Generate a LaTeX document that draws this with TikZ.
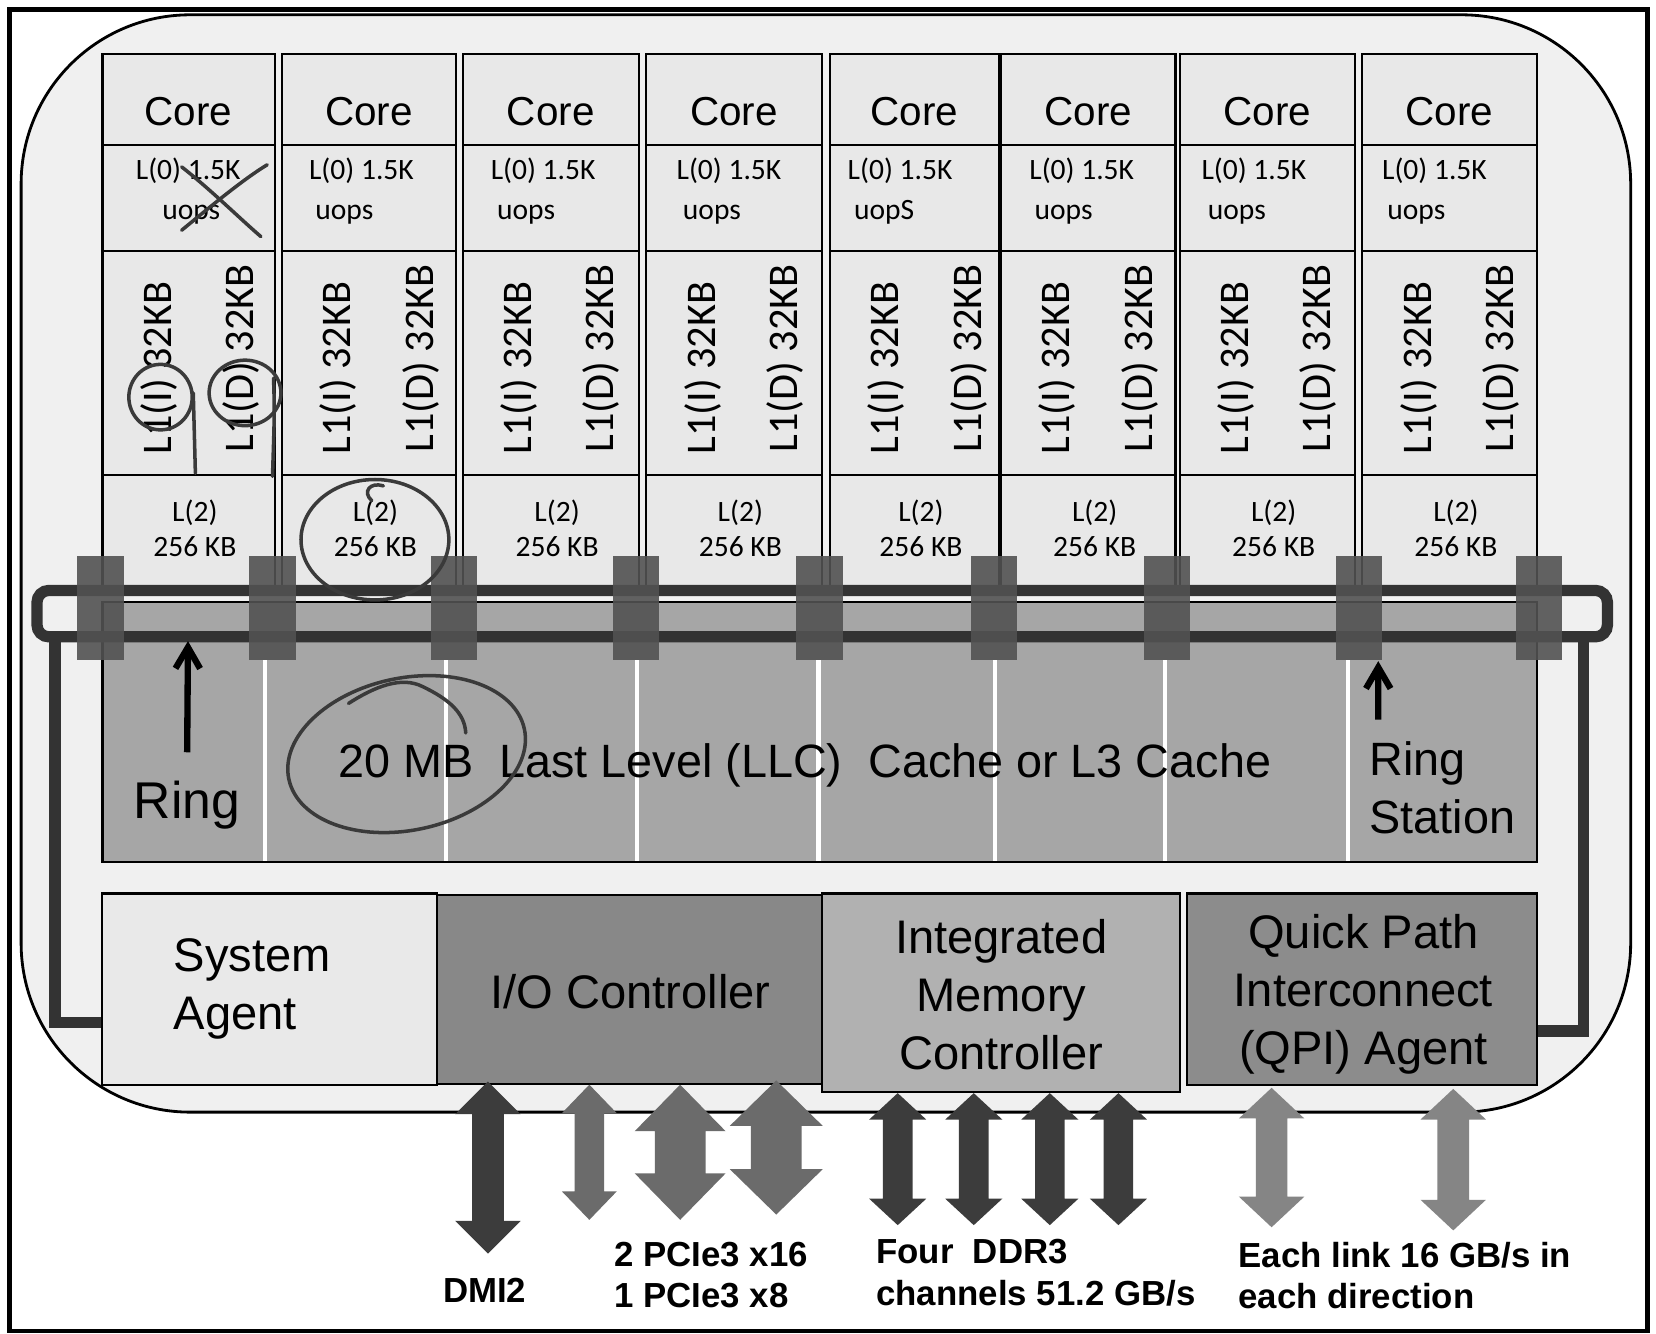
\documentclass[tikz,border=0pt]{standalone}
\usepackage{fontspec}
\setmainfont{Liberation Sans}
\newfontfamily\cachefont{Carlito}
\usetikzlibrary{arrows.meta}

\definecolor{chipbg}{HTML}{F0F0F0}
\definecolor{cellbg}{HTML}{E8E8E8}
\definecolor{ringline}{HTML}{333333}
\definecolor{station}{HTML}{525252}
\definecolor{llcbg}{HTML}{A6A6A6}
\definecolor{sabg}{HTML}{E9E9E9}
\definecolor{iobg}{HTML}{888888}
\definecolor{imcbg}{HTML}{B1B1B1}
\definecolor{qpibg}{HTML}{8C8C8C}
\definecolor{darkarrow}{HTML}{3C3C3C}
\definecolor{midarrow}{HTML}{6B6B6B}
\definecolor{lightarrow}{HTML}{858585}
\definecolor{pen}{HTML}{3A3A3A}

\tikzset{
  cell/.style={draw=black, line width=0.6pt, fill=cellbg},
  coretext/.style={anchor=base, inner sep=0pt, font=\fontsize{11.5}{14}\selectfont},
  smalltext/.style={anchor=base west, inner sep=0pt, font=\cachefont\fontsize{8.4}{10}\selectfont},
  lonetext/.style={anchor=base west, rotate=90, inner sep=0pt, font=\cachefont\fontsize{12}{14}\selectfont},
  bigtext/.style={inner sep=0pt, font=\fontsize{13.4}{16.5}\selectfont},
  unit/.style={draw=black, line width=0.6pt, inner sep=0pt},
  lbl/.style={inner sep=0pt, align=left, font=\bfseries\fontsize{9.9}{11.8}\selectfont},
  ringwire/.style={draw=ringline, line width=3.2pt},
  ringarrow/.style={-{Straight Barb[length=6pt,width=7pt]}, line width=1.8pt},
  scribble/.style={draw=pen, line width=1pt, line cap=round}
}

\begin{document}
\begin{tikzpicture}[x=0.010561cm, y=-0.010561cm]
    \useasboundingbox (0,0) rectangle (1568,1263);
    \fill[white] (0,0) rectangle (1568,1263);
    % frame and chip
    \draw[line width=1.2pt] (9,9) rectangle (1560,1260);
    \draw[fill=chipbg, line width=0.8pt, rounded corners=1.69cm] (20,14) rectangle (1544,1053);

    % the eight cores
    \foreach \i/\l/\r/\o/\u/\w in {1/97/260/31/25/uops, 2/267/432/25/6/uops,
        3/438/605/26/6/uops, 4/612/778/28/6/uops, 5/786/946/16/6/uopS,
        6/948/1113/26/5/uops, 7/1117/1283/20/6/uops, 8/1290/1455/18/5/uops} {
      \draw[cell] (\l,51) rectangle (\r,137);
      \draw[cell] (\l,137) rectangle (\r,238);
      \draw[cell] (\l,238) rectangle (\r,450);
      \draw[cell] (\l,450) rectangle (\r,562);
      \node[coretext] (core\i) at ({(\l+\r)/2},119) {Core};
      \node[smalltext] (lzero\i) at (\l+\o,170) {L(0) 1.5K};
      \node[smalltext] (uops\i) at (\l+\o+\u,208) {\w};
      \node[lonetext] (lonei\i) at (\l+65,431) {L1(I) 32KB};
      \node[lonetext] (loned\i) at (\l+143,429) {L1(D) 32KB};
      \node[smalltext, anchor=base] (ltwo\i) at ({(\l+\r)/2+6},494) {L(2)};
      \node[smalltext, anchor=base] (ltwokb\i) at ({(\l+\r)/2+6},527) {256 KB};
    }

    % last level cache
    \draw[fill=llcbg, line width=0.6pt] (97,570) rectangle (1455,816);
    \foreach \x in {251,422,603,775,942,1103,1276}
      \draw[white, line width=1.2pt] (\x,625) -- (\x,815);

    % ring and ring stations
    \draw[ringwire, rounded corners=0.12cm] (35,559) rectangle (1522,603);
    \foreach \x in {95,258,430,602,776,941,1105,1287,1457}
      \fill[station, fill opacity=0.9] (\x-22,526) rectangle (\x+22,625);

    \node[inner sep=0pt, anchor=base, font=\fontsize{14.7}{17}\selectfont] (ringlbl) at (177,775) {Ring};
    \node[bigtext, anchor=base west, align=left, font=\fontsize{13.3}{16.5}\selectfont] (stationlbl) at (1296,789) {Ring\\Station};
    \node[bigtext, anchor=base, font=\fontsize{13.3}{16}\selectfont] (llc) at (762,736) {20 MB\ \ Last Level (LLC)\ \ Cache or L3 Cache};
    \coordinate (ringtip) at (178,607);
    \coordinate (stationtip) at (1305,626);
    \draw[ringarrow, shorten <=8pt] (ringlbl.north) -- (ringtip);
    \draw[ringarrow, shorten <=6pt] ([xshift=2.7pt]stationlbl.north west) -- (stationtip);

    % uncore units
    \node[unit, fill=sabg, minimum width=3.348cm, minimum height=1.912cm] (sa) at (255.5,936.5) {};
    \node[unit, fill=iobg, minimum width=3.844cm, minimum height=1.890cm] (ioc) at (596,936.5) {};
    \node[unit, fill=imcbg, minimum width=3.580cm, minimum height=1.985cm] (imc) at (947.5,940) {};
    \node[unit, fill=qpibg, minimum width=3.496cm, minimum height=1.912cm] (qpi) at (1289.5,936.5) {};
    \node[bigtext, anchor=base west, align=left] (satext) at (164,975) {System\\Agent};
    \node[bigtext, anchor=base] (ioctext) at (597,955) {I/O Controller};
    \node[bigtext, anchor=base, align=center] (imctext) at (948,1013) {Integrated\\Memory\\Controller};
    \node[bigtext, anchor=base, align=center] (qpitext) at (1291,1008) {Quick Path\\Interconnect\\(QPI) Agent};

    % ring to system agent and QPI agent
    \coordinate (ringsw) at (52,603);
    \coordinate (ringse) at (1499,603);
    \draw[ringwire] (ringsw) |- ([yshift=-9.5pt]sa.west);
    \draw[ringwire] (ringse) |- ([yshift=-11.9pt]qpi.east);

    % off-chip links
    \foreach \x/\t/\b/\s/\h/\a/\c in {462/1024/1187/15/31/31/darkarrow,
        558/1027/1155/14/26/27/midarrow, 644/1027/1155/24/43/44/midarrow,
        735/1023/1150/24/44/43/midarrow, 850/1035/1160/14/27/25/darkarrow,
        922/1035/1160/14/27/25/darkarrow, 994/1035/1160/14/27/25/darkarrow,
        1059/1035/1160/14/27/25/darkarrow, 1204/1030/1162/15/31/29/lightarrow,
        1376/1031/1165/15/31/29/lightarrow}
      \fill[\c] (\x,\t) -- (\x+\h,\t+\a) -- (\x+\s,\t+\a) -- (\x+\s,\b-\a)
        -- (\x+\h,\b-\a) -- (\x,\b) -- (\x-\h,\b-\a) -- (\x-\s,\b-\a)
        -- (\x-\s,\t+\a) -- (\x-\h,\t+\a) -- cycle;

    \node[lbl, anchor=base] (dmi) at (459,1233) {DMI2};
    \node[lbl, anchor=base west] (pcie) at (581,1238) {2 PCIe3 x16\\1 PCIe3 x8};
    \node[lbl, anchor=base west] (ddr) at (829,1236) {Four\ \ DDR3\\channels 51.2 GB/s};
    \node[lbl, anchor=base west] (qpilink) at (1172,1239) {Each link 16 GB/s in\\each direction};

    % hand-drawn marks
    \draw[scribble] (172,158) .. controls (200,180) and (225,205) .. (247,224);
    \draw[scribble] (172,218) .. controls (200,195) and (230,170) .. (253,156);
    \draw[scribble] (152,376) ellipse [x radius=30, y radius=31];
    \draw[scribble] (183,372) -- (185,448);
    \draw[scribble] (232,372) ellipse [x radius=34, y radius=31];
    \draw[scribble] (259,358) .. controls (260,390) .. (258,451);
    \draw[scribble] (355,511) ellipse [x radius=70, y radius=57];
    \draw[scribble] (352,474) .. controls (343,466) and (350,456) .. (363,460);
    \draw[scribble, rotate around={12:(385,714)}] (385,714) ellipse [x radius=114, y radius=72];
    \draw[scribble] (330,666) .. controls (355,650) and (380,640) .. (400,650)
      .. controls (425,662) and (440,675) .. (441,694);
\end{tikzpicture}
\end{document}
